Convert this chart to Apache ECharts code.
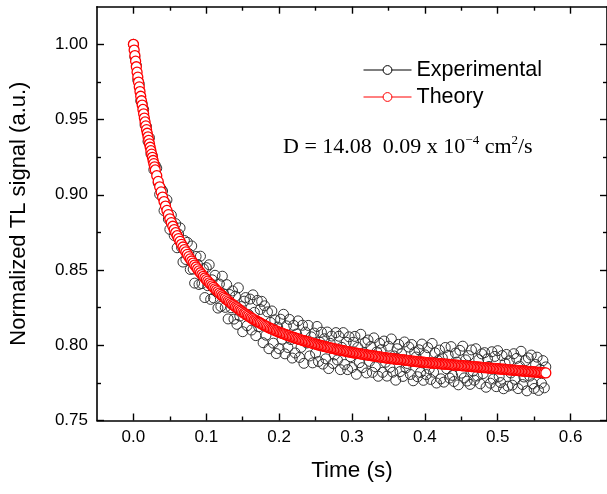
<!DOCTYPE html>
<html><head><meta charset="utf-8">
<script src="https://cdn.jsdelivr.net/npm/echarts@6/dist/echarts.min.js"></script>
<style>html,body{margin:0;padding:0;background:#fff}#c{width:607px;height:494px}</style>
</head><body><div id="c"></div>
<script>
const seriesNames = ['Experimental', 'Theory'];

// Experimental signal, sampled every 2 ms from t = 0
const expStart = 0, expStep = 0.002;
const expValues = [
1.0000,0.9915,0.9861,0.9762,0.9737,0.9625,0.9606,0.9568,0.9464,0.9453,
0.9355,0.9379,0.9273,0.9259,0.9167,0.9195,0.9177,0.9079,0.9003,0.9039,
0.9025,0.8895,0.8945,0.8966,0.8838,0.8770,0.8865,0.8801,0.8729,0.8808,
0.8648,0.8739,0.8780,0.8651,0.8553,0.8696,0.8570,0.8684,0.8609,0.8504,
0.8660,0.8506,0.8413,0.8590,0.8537,0.8404,0.8592,0.8410,0.8508,0.8317,
0.8516,0.8396,0.8535,0.8305,0.8435,0.8315,0.8465,0.8356,0.8247,0.8407,
0.8258,0.8459,0.8340,0.8252,0.8403,0.8175,0.8337,0.8249,0.8361,0.8174,
0.8326,0.8139,0.8382,0.8194,0.8257,0.8090,0.8293,0.8317,0.8130,0.8204,
0.8307,0.8101,0.8335,0.8219,0.8064,0.8298,0.8123,0.8238,0.8292,0.8017,
0.8262,0.8067,0.8222,0.7977,0.8152,0.8228,0.8014,0.8169,0.7945,0.8121,
0.7977,0.8173,0.8040,0.8206,0.7943,0.8129,0.7985,0.8172,0.8038,0.7915,
0.8132,0.7949,0.8075,0.8162,0.7919,0.7986,0.8133,0.7880,0.8087,0.8015,
0.8132,0.7929,0.8056,0.7883,0.8081,0.7948,0.8125,0.7892,0.8020,0.8087,
0.7875,0.8043,0.7910,0.8088,0.7845,0.8013,0.8061,0.7879,0.7936,0.8084,
0.7902,0.8060,0.7838,0.7986,0.8084,0.7872,0.8020,0.7838,0.8056,0.7924,
0.7852,0.8020,0.8059,0.7807,0.7986,0.7884,0.8073,0.7851,0.7950,0.8018,
0.7816,0.8035,0.7893,0.7992,0.7820,0.8049,0.7857,0.7956,0.7794,0.8013,
0.7971,0.7820,0.8028,0.7887,0.7795,0.7994,0.7853,0.8042,0.7821,0.7929,
0.7768,0.7977,0.8006,0.7825,0.7944,0.7793,0.8022,0.7850,0.7879,0.7988,
0.7806,0.8005,0.7764,0.7953,0.7922,0.7791,0.7970,0.7819,0.8008,0.7767,
0.7936,0.7805,0.7984,0.7843,0.7773,0.8012,0.7821,0.7950,0.7749,0.7898,
0.7968,0.7777,0.7916,0.7755,0.7985,0.7844,0.7933,0.7782,0.7991,0.7800,
0.7759,0.7948,0.7888,0.7737,0.7966,0.7815,0.7994,0.7783,0.7903,0.7762,
0.7931,0.7740,0.7969,0.7828,0.7768,0.7977,0.7796,0.7905,0.7744,0.7943,
0.7812,0.7951,0.7721,0.7910,0.7859,0.7748,0.7957,0.7776,0.7926,0.7725,
0.7964,0.7793,0.7752,0.7931,0.7711,0.7880,0.7939,0.7728,0.7897,0.7816,
0.7735,0.7944,0.7774,0.7913,0.7712,0.7861,0.7960,0.7739,0.7789,0.7898,
0.7697,0.7916,0.7795,0.7935,0.7744,0.7713,0.7872,0.7921,0.7700,0.7839,
0.7748,0.7898,0.7717,0.7856
];

// Theory curve: 1 ms samples for 0-30 ms, then 2 ms samples from 32 ms
const theoryEarlyStart = 0, theoryEarlyStep = 0.001;
const theoryEarly = [
1.0000,0.9962,0.9925,0.9888,0.9851,0.9815,0.9782,0.9749,0.9717,0.9686,
0.9655,0.9625,0.9596,0.9567,0.9538,0.9510,0.9484,0.9458,0.9433,0.9409,
0.9385,0.9362,0.9339,0.9316,0.9293,0.9270,0.9249,0.9228,0.9207,0.9186,
0.9165
];
const theoryLateStart = 0.032, theoryLateStep = 0.002;
const theoryLate = [
0.9127,0.9089,0.9053,0.9019,
0.8985,0.8955,0.8925,0.8896,0.8868,0.8840,0.8815,0.8791,0.8769,0.8748,
0.8728,0.8709,0.8690,0.8671,0.8653,0.8636,0.8620,0.8604,0.8589,0.8574,
0.8560,0.8546,0.8533,0.8520,0.8507,0.8494,0.8482,0.8470,0.8458,0.8447,
0.8436,0.8426,0.8415,0.8405,0.8395,0.8385,0.8375,0.8366,0.8357,0.8347,
0.8338,0.8329,0.8320,0.8312,0.8303,0.8295,0.8287,0.8279,0.8271,0.8264,
0.8256,0.8249,0.8242,0.8234,0.8227,0.8220,0.8213,0.8207,0.8200,0.8194,
0.8187,0.8181,0.8175,0.8169,0.8164,0.8158,0.8153,0.8148,0.8142,0.8137,
0.8132,0.8127,0.8122,0.8117,0.8112,0.8108,0.8104,0.8099,0.8095,0.8091,
0.8087,0.8083,0.8080,0.8076,0.8073,0.8069,0.8065,0.8062,0.8058,0.8055,
0.8052,0.8049,0.8045,0.8042,0.8039,0.8036,0.8033,0.8030,0.8027,0.8025,
0.8022,0.8019,0.8016,0.8013,0.8011,0.8008,0.8005,0.8002,0.8000,0.7997,
0.7995,0.7993,0.7990,0.7988,0.7985,0.7983,0.7981,0.7979,0.7976,0.7974,
0.7972,0.7970,0.7968,0.7966,0.7964,0.7962,0.7960,0.7958,0.7956,0.7954,
0.7952,0.7950,0.7949,0.7947,0.7946,0.7944,0.7943,0.7941,0.7940,0.7938,
0.7936,0.7935,0.7933,0.7932,0.7930,0.7929,0.7927,0.7926,0.7924,0.7923,
0.7921,0.7920,0.7918,0.7917,0.7915,0.7914,0.7913,0.7912,0.7911,0.7909,
0.7908,0.7907,0.7906,0.7905,0.7904,0.7903,0.7902,0.7900,0.7899,0.7898,
0.7896,0.7895,0.7894,0.7893,0.7892,0.7891,0.7890,0.7889,0.7888,0.7887,
0.7886,0.7885,0.7884,0.7883,0.7883,0.7882,0.7881,0.7880,0.7879,0.7878,
0.7878,0.7877,0.7876,0.7875,0.7875,0.7874,0.7873,0.7872,0.7871,0.7870,
0.7869,0.7868,0.7868,0.7867,0.7866,0.7865,0.7864,0.7863,0.7863,0.7862,
0.7861,0.7860,0.7859,0.7858,0.7858,0.7857,0.7856,0.7855,0.7854,0.7853,
0.7852,0.7851,0.7851,0.7850,0.7849,0.7848,0.7847,0.7846,0.7846,0.7845,
0.7844,0.7843,0.7842,0.7841,0.7841,0.7840,0.7839,0.7838,0.7837,0.7836,
0.7835,0.7834,0.7834,0.7833,0.7832,0.7831,0.7830,0.7829,0.7829,0.7828,
0.7827,0.7826,0.7825,0.7824,0.7824,0.7823,0.7822,0.7821,0.7820,0.7819,
0.7818,0.7818,0.7817,0.7816
];

const xTicks = [0, 0.1, 0.2, 0.3, 0.4, 0.5, 0.6];
const xMinorTicks = [0.05, 0.15, 0.25, 0.35, 0.45, 0.55];
const yTicks = [0.75, 0.80, 0.85, 0.90, 0.95, 1.00];
const yMinorTicks = [0.775, 0.825, 0.875, 0.925, 0.975];

const xTitle = 'Time (s)';
const yTitle = 'Normalized TL signal (a.u.)';

const expData = expValues.map((v, i) => [+(expStart + i * expStep).toFixed(4), v]);
const theoryData = theoryEarly.map((v, i) => [+(theoryEarlyStart + i * theoryEarlyStep).toFixed(4), v])
  .concat(theoryLate.map((v, i) => [+(theoryLateStart + i * theoryLateStep).toFixed(4), v]));

const SANS = 'Liberation Sans, Arial, Helvetica, sans-serif';
const SERIF = 'Liberation Serif, Times New Roman, serif';
const XMIN = -0.05, XMAX = 0.65, YMIN = 0.75, YMAX = 1.025;

function xAxisDef(pos, ticks, len, main) {
  const a = {
    type: 'value', position: pos, min: XMIN, max: XMAX,
    axisLine: { show: main, onZero: false, lineStyle: { color: '#000', width: 1.6 } },
    axisTick: { show: true, inside: true, length: len, customValues: ticks, lineStyle: { color: '#000', width: 1.4 } },
    axisLabel: { show: main && pos === 'bottom', customValues: ticks, formatter: v => v.toFixed(1),
      fontSize: 17, fontFamily: SANS, color: '#000', margin: 8 },
    splitLine: { show: false }
  };
  if (main && pos === 'bottom') {
    a.name = xTitle; a.nameLocation = 'middle'; a.nameGap = 39;
    a.nameTextStyle = { fontSize: 22.5, fontFamily: SANS, color: '#000' };
  }
  return a;
}
function yAxisDef(pos, ticks, len, main) {
  const a = {
    type: 'value', position: pos, min: YMIN, max: YMAX,
    axisLine: { show: main, onZero: false, lineStyle: { color: '#000', width: 1.6 } },
    axisTick: { show: true, inside: true, length: len, customValues: ticks, lineStyle: { color: '#000', width: 1.4 } },
    axisLabel: { show: main && pos === 'left', customValues: ticks, formatter: v => v.toFixed(2),
      fontSize: 17, fontFamily: SANS, color: '#000', margin: 9 },
    splitLine: { show: false }
  };
  if (main && pos === 'left') {
    a.name = yTitle; a.nameLocation = 'middle'; a.nameGap = 67; a.nameRotate = 90;
    a.nameTextStyle = { fontSize: 22, fontFamily: SANS, color: '#000' };
  }
  return a;
}

const chart = echarts.init(document.getElementById('c'), null, { renderer: 'canvas' });
chart.setOption({
  animation: false,
  backgroundColor: '#fff',
  grid: { left: 96, right: -5.5, top: 6.7, bottom: 73.5, containLabel: false },
  xAxis: [
    xAxisDef('bottom', xTicks, 7, true), xAxisDef('bottom', xMinorTicks, 4, false),
    xAxisDef('top', xTicks, 7, true), xAxisDef('top', xMinorTicks, 4, false)
  ],
  yAxis: [
    yAxisDef('left', yTicks, 7, true), yAxisDef('left', yMinorTicks, 4, false),
    yAxisDef('right', yTicks, 7, true), yAxisDef('right', yMinorTicks, 4, false)
  ],
  legend: {
    orient: 'vertical', left: 363, top: 59, padding: 0,
    itemWidth: 48, itemHeight: 11, itemGap: 5,
    textStyle: { fontSize: 21.5, fontFamily: SANS, color: '#000' },
    data: [
      { name: seriesNames[0], lineStyle: { color: '#000', width: 1, opacity: 1 },
        itemStyle: { color: '#fff', borderColor: '#000', borderWidth: 1 } },
      { name: seriesNames[1], lineStyle: { color: '#ff0000', width: 1, opacity: 1 },
        itemStyle: { color: '#fff', borderColor: '#ff0000', borderWidth: 1 } }
    ]
  },
  graphic: [{
    type: 'text', left: 283, top: 134,
    style: {
      text: '{a|D = 14.08  0.09 x 10}{b|\u22124}{a| cm}{b|2}{a|/s}',
      rich: {
        a: { fontFamily: SERIF, fontSize: 22, fill: '#000', lineHeight: 26 },
        b: { fontFamily: SERIF, fontSize: 13, fill: '#000', lineHeight: 15, verticalAlign: 'top' }
      }
    }
  }],
  series: [
    { name: seriesNames[0], type: 'line', xAxisIndex: 0, yAxisIndex: 0, data: expData,
      symbol: 'circle', symbolSize: 10, showSymbol: true, showAllSymbol: true, silent: true, z: 2,
      lineStyle: { width: 0, opacity: 0 },
      itemStyle: { color: 'rgba(0,0,0,0)', borderColor: '#333', borderWidth: 1 } },
    { name: seriesNames[1], type: 'line', xAxisIndex: 0, yAxisIndex: 0, data: theoryData,
      symbol: 'circle', symbolSize: 10, showSymbol: true, showAllSymbol: true, silent: true, z: 3,
      lineStyle: { color: '#ff0000', width: 1 },
      itemStyle: { color: '#fff', borderColor: '#ff0000', borderWidth: 1.3 } }
  ]
});
</script></body></html>
